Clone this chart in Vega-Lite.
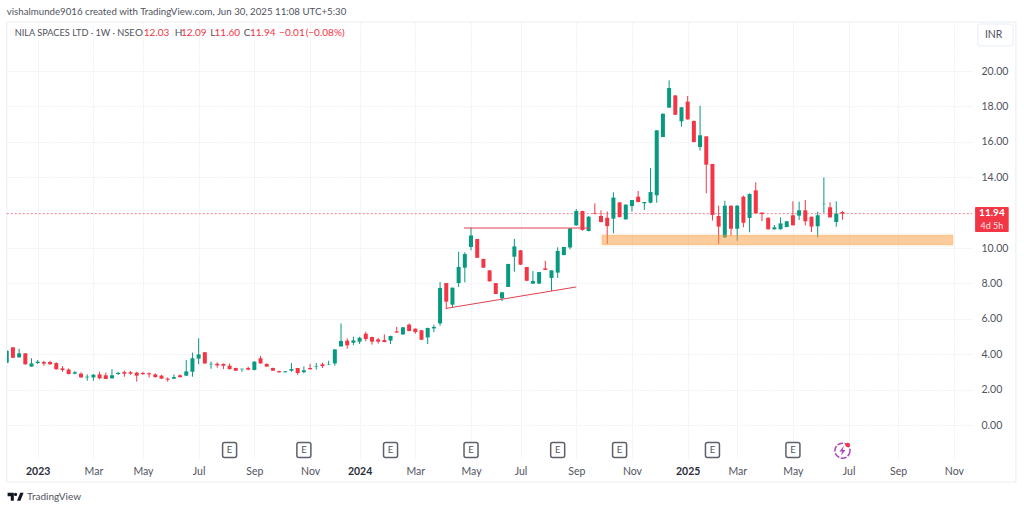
{
  "$schema": "https://vega.github.io/schema/vega-lite/v6.json",
  "autosize": "none",
  "padding": {"left": 7, "top": 22, "right": 52, "bottom": 51},
  "width": 965,
  "height": 438,
  "background": "white",
  "config": {"view": {"stroke": null}, "text": {"font": "Lato"}, "axis": {"labelFont": "Lato"}},
  "datasets": {
    "candles": [
      {"date":"2022-11-28","open":3.52,"high":4.24,"low":3.48,"close":4.2},
      {"date":"2022-12-05","open":4.39,"high":4.39,"low":3.78,"close":3.8},
      {"date":"2022-12-12","open":3.82,"high":4.31,"low":3.82,"close":4.05},
      {"date":"2022-12-19","open":4.05,"high":4.07,"low":3.41,"close":3.43},
      {"date":"2022-12-26","open":3.3,"high":3.77,"low":3.29,"close":3.48},
      {"date":"2023-01-02","open":3.5,"high":3.67,"low":3.45,"close":3.58},
      {"date":"2023-01-09","open":3.56,"high":3.63,"low":3.35,"close":3.47},
      {"date":"2023-01-16","open":3.56,"high":3.63,"low":3.41,"close":3.43},
      {"date":"2023-01-23","open":3.5,"high":3.54,"low":3.13,"close":3.15},
      {"date":"2023-01-30","open":3.2,"high":3.33,"low":3.01,"close":3.11},
      {"date":"2023-02-06","open":3.13,"high":3.2,"low":2.86,"close":2.88},
      {"date":"2023-02-13","open":2.9,"high":3.05,"low":2.86,"close":2.98},
      {"date":"2023-02-20","open":2.9,"high":2.98,"low":2.67,"close":2.69},
      {"date":"2023-02-27","open":2.69,"high":2.86,"low":2.5,"close":2.73},
      {"date":"2023-03-06","open":2.69,"high":2.88,"low":2.5,"close":2.84},
      {"date":"2023-03-13","open":2.86,"high":3.01,"low":2.58,"close":2.64},
      {"date":"2023-03-20","open":2.81,"high":2.96,"low":2.6,"close":2.6},
      {"date":"2023-03-27","open":2.64,"high":3.15,"low":2.62,"close":2.81},
      {"date":"2023-04-03","open":2.88,"high":3.01,"low":2.83,"close":2.94},
      {"date":"2023-04-10","open":2.99,"high":3.07,"low":2.73,"close":2.9},
      {"date":"2023-04-17","open":2.98,"high":3.05,"low":2.84,"close":2.9},
      {"date":"2023-04-24","open":2.96,"high":3.01,"low":2.45,"close":2.79},
      {"date":"2023-05-01","open":2.94,"high":3.01,"low":2.83,"close":2.88},
      {"date":"2023-05-08","open":2.92,"high":2.98,"low":2.69,"close":2.86},
      {"date":"2023-05-15","open":2.86,"high":2.92,"low":2.67,"close":2.71},
      {"date":"2023-05-22","open":2.79,"high":2.83,"low":2.6,"close":2.62},
      {"date":"2023-05-29","open":2.62,"high":2.69,"low":2.45,"close":2.56},
      {"date":"2023-06-05","open":2.62,"high":2.86,"low":2.6,"close":2.71},
      {"date":"2023-06-12","open":2.81,"high":2.86,"low":2.67,"close":2.71},
      {"date":"2023-06-19","open":2.79,"high":3.67,"low":2.77,"close":3.03},
      {"date":"2023-06-26","open":3.01,"high":4.09,"low":2.73,"close":3.77},
      {"date":"2023-07-03","open":3.75,"high":4.9,"low":3.43,"close":3.99},
      {"date":"2023-07-10","open":4.11,"high":4.13,"low":3.46,"close":3.48},
      {"date":"2023-07-17","open":3.43,"high":3.58,"low":3.18,"close":3.46},
      {"date":"2023-07-24","open":3.46,"high":3.54,"low":3.24,"close":3.37},
      {"date":"2023-07-31","open":3.45,"high":3.48,"low":3.16,"close":3.35},
      {"date":"2023-08-07","open":3.35,"high":3.48,"low":3.13,"close":3.16},
      {"date":"2023-08-14","open":3.22,"high":3.24,"low":3.05,"close":3.07},
      {"date":"2023-08-21","open":3.15,"high":3.18,"low":3.01,"close":3.18},
      {"date":"2023-08-28","open":3.22,"high":3.3,"low":3.09,"close":3.13},
      {"date":"2023-09-04","open":3.11,"high":3.6,"low":3.09,"close":3.58},
      {"date":"2023-09-11","open":3.77,"high":3.9,"low":3.46,"close":3.48},
      {"date":"2023-09-18","open":3.45,"high":3.48,"low":3.28,"close":3.3},
      {"date":"2023-09-25","open":3.22,"high":3.24,"low":3.05,"close":3.07},
      {"date":"2023-10-02","open":3.05,"high":3.07,"low":2.96,"close":2.98},
      {"date":"2023-10-09","open":2.98,"high":3.05,"low":2.96,"close":3.03},
      {"date":"2023-10-16","open":3.07,"high":3.5,"low":3.01,"close":3.16},
      {"date":"2023-10-23","open":3.22,"high":3.22,"low":2.84,"close":2.94},
      {"date":"2023-10-30","open":2.99,"high":3.31,"low":2.92,"close":3.09},
      {"date":"2023-11-06","open":3.22,"high":3.45,"low":3.13,"close":3.15},
      {"date":"2023-11-13","open":3.3,"high":3.5,"low":3.13,"close":3.33},
      {"date":"2023-11-20","open":3.43,"high":3.52,"low":3.22,"close":3.33},
      {"date":"2023-11-27","open":3.43,"high":3.63,"low":3.39,"close":3.45},
      {"date":"2023-12-04","open":3.48,"high":4.29,"low":3.35,"close":4.27},
      {"date":"2023-12-11","open":4.44,"high":5.74,"low":4.44,"close":4.75},
      {"date":"2023-12-18","open":4.77,"high":4.9,"low":4.31,"close":4.5},
      {"date":"2023-12-25","open":4.65,"high":4.99,"low":4.52,"close":4.78},
      {"date":"2024-01-01","open":4.71,"high":4.99,"low":4.58,"close":4.93},
      {"date":"2024-01-08","open":5.16,"high":5.27,"low":4.73,"close":4.86},
      {"date":"2024-01-15","open":4.97,"high":4.99,"low":4.54,"close":4.71},
      {"date":"2024-01-22","open":4.84,"high":4.92,"low":4.6,"close":4.71},
      {"date":"2024-01-29","open":4.8,"high":5.12,"low":4.67,"close":4.69},
      {"date":"2024-02-05","open":4.77,"high":5.05,"low":4.58,"close":5.03},
      {"date":"2024-02-12","open":5.29,"high":5.54,"low":5.22,"close":5.22},
      {"date":"2024-02-19","open":5.12,"high":5.54,"low":5.1,"close":5.52},
      {"date":"2024-02-26","open":5.67,"high":5.74,"low":5.29,"close":5.31},
      {"date":"2024-03-04","open":5.44,"high":5.46,"low":5.16,"close":5.25},
      {"date":"2024-03-11","open":5.35,"high":5.37,"low":4.8,"close":4.82},
      {"date":"2024-03-18","open":4.95,"high":5.5,"low":4.58,"close":5.48},
      {"date":"2024-03-25","open":5.46,"high":5.67,"low":5.25,"close":5.54},
      {"date":"2024-04-01","open":5.74,"high":8.08,"low":5.61,"close":7.74},
      {"date":"2024-04-08","open":8.02,"high":8.02,"low":6.55,"close":6.97},
      {"date":"2024-04-15","open":6.8,"high":7.76,"low":6.65,"close":7.76},
      {"date":"2024-04-22","open":8.02,"high":9.79,"low":7.8,"close":8.93},
      {"date":"2024-04-29","open":8.89,"high":9.76,"low":8.06,"close":9.66},
      {"date":"2024-05-06","open":10.06,"high":11.15,"low":9.87,"close":10.71},
      {"date":"2024-05-13","open":10.51,"high":10.51,"low":9.43,"close":9.45},
      {"date":"2024-05-20","open":9.38,"high":9.4,"low":8.87,"close":8.89},
      {"date":"2024-05-27","open":8.74,"high":8.74,"low":8.1,"close":8.12},
      {"date":"2024-06-03","open":8.02,"high":8.02,"low":7.4,"close":7.4},
      {"date":"2024-06-10","open":7.16,"high":7.5,"low":7.0,"close":7.5},
      {"date":"2024-06-17","open":7.8,"high":9.1,"low":7.8,"close":9.1},
      {"date":"2024-06-24","open":9.51,"high":10.51,"low":8.66,"close":10.09},
      {"date":"2024-07-01","open":9.87,"high":9.89,"low":9.04,"close":9.06},
      {"date":"2024-07-08","open":8.93,"high":8.93,"low":8.13,"close":8.15},
      {"date":"2024-07-15","open":7.99,"high":8.7,"low":7.97,"close":8.14},
      {"date":"2024-07-22","open":7.99,"high":8.64,"low":7.97,"close":8.64},
      {"date":"2024-07-29","open":8.85,"high":9.28,"low":8.76,"close":8.76},
      {"date":"2024-08-05","open":8.31,"high":8.74,"low":7.57,"close":8.74},
      {"date":"2024-08-12","open":8.61,"high":10.04,"low":8.31,"close":9.83},
      {"date":"2024-08-19","open":9.6,"high":10.06,"low":9.6,"close":10.06},
      {"date":"2024-08-26","open":10.03,"high":11.11,"low":9.93,"close":11.11},
      {"date":"2024-09-02","open":11.28,"high":12.2,"low":11.26,"close":12.09},
      {"date":"2024-09-09","open":12.09,"high":12.1,"low":10.98,"close":11.02},
      {"date":"2024-09-16","open":10.96,"high":11.8,"low":10.94,"close":11.77},
      {"date":"2024-09-23","open":11.96,"high":12.52,"low":11.92,"close":11.92},
      {"date":"2024-09-30","open":11.81,"high":12.13,"low":11.45,"close":11.47},
      {"date":"2024-10-07","open":11.71,"high":12.06,"low":10.23,"close":11.24},
      {"date":"2024-10-14","open":11.66,"high":13.15,"low":10.83,"close":12.85},
      {"date":"2024-10-21","open":12.58,"high":12.58,"low":11.73,"close":11.75},
      {"date":"2024-10-28","open":11.62,"high":12.47,"low":11.6,"close":12.45},
      {"date":"2024-11-04","open":12.37,"high":12.71,"low":12.05,"close":12.71},
      {"date":"2024-11-11","open":12.9,"high":13.22,"low":12.58,"close":12.6},
      {"date":"2024-11-18","open":12.53,"high":12.6,"low":12.15,"close":12.6},
      {"date":"2024-11-25","open":12.56,"high":14.52,"low":12.52,"close":13.16},
      {"date":"2024-12-02","open":12.98,"high":16.65,"low":12.56,"close":16.65},
      {"date":"2024-12-09","open":16.27,"high":17.59,"low":16.27,"close":17.59},
      {"date":"2024-12-16","open":17.93,"high":19.47,"low":17.93,"close":19.04},
      {"date":"2024-12-23","open":18.62,"high":18.64,"low":17.51,"close":17.53},
      {"date":"2024-12-30","open":17.16,"high":17.97,"low":16.86,"close":17.95},
      {"date":"2025-01-06","open":18.27,"high":18.59,"low":17.25,"close":17.27},
      {"date":"2025-01-13","open":17.18,"high":17.2,"low":15.97,"close":15.99},
      {"date":"2025-01-20","open":15.71,"high":18.04,"low":15.5,"close":16.37},
      {"date":"2025-01-27","open":16.31,"high":16.31,"low":13.09,"close":14.71},
      {"date":"2025-02-03","open":14.75,"high":14.75,"low":11.55,"close":11.87},
      {"date":"2025-02-10","open":11.81,"high":12.39,"low":10.23,"close":11.21},
      {"date":"2025-02-17","open":10.6,"high":12.67,"low":10.57,"close":12.39},
      {"date":"2025-02-24","open":12.39,"high":12.39,"low":10.7,"close":11.09},
      {"date":"2025-03-03","open":11.09,"high":12.43,"low":10.41,"close":12.39},
      {"date":"2025-03-10","open":12.9,"high":12.96,"low":11.17,"close":11.43},
      {"date":"2025-03-17","open":11.7,"high":13.09,"low":10.89,"close":13.05},
      {"date":"2025-03-24","open":13.26,"high":13.71,"low":11.96,"close":11.96},
      {"date":"2025-03-31","open":12.0,"high":12.0,"low":11.51,"close":11.92},
      {"date":"2025-04-07","open":11.71,"high":11.73,"low":11.04,"close":11.06},
      {"date":"2025-04-14","open":11.06,"high":11.3,"low":11.04,"close":11.17},
      {"date":"2025-04-21","open":11.06,"high":11.73,"low":11.04,"close":11.39},
      {"date":"2025-04-28","open":11.19,"high":11.53,"low":11.17,"close":11.51},
      {"date":"2025-05-05","open":11.85,"high":12.64,"low":11.28,"close":11.28},
      {"date":"2025-05-12","open":11.83,"high":12.62,"low":11.58,"close":12.13},
      {"date":"2025-05-19","open":12.13,"high":12.71,"low":11.28,"close":11.51},
      {"date":"2025-05-26","open":11.77,"high":11.77,"low":10.9,"close":11.21},
      {"date":"2025-06-02","open":11.23,"high":12.05,"low":10.6,"close":11.85},
      {"date":"2025-06-09","open":12.48,"high":13.99,"low":11.99,"close":12.5},
      {"date":"2025-06-16","open":12.3,"high":12.58,"low":11.73,"close":11.73},
      {"date":"2025-06-23","open":11.47,"high":12.64,"low":11.2,"close":11.94},
      {"date":"2025-06-30","open":12.03,"high":12.09,"low":11.6,"close":11.94}
    ],
    "trendlines": [
      {"line":"resistance","date":"2024-04-28","price":11.13},
      {"line":"resistance","date":"2024-09-17","price":11.13},
      {"line":"support","date":"2024-04-08","price":6.59},
      {"line":"support","date":"2024-09-02","price":7.8}
    ],
    "zone": [{"date":"2024-10-01","end":"2025-11-02","top":10.73,"bottom":10.17}],
    "last": [{"date":"2022-11-28","end":"2025-11-23T12:00:00Z","price":11.94}],
    "frame": [{"date":"2022-11-28","end":"2026-01-12","top":22.77,"bottom":-3.22}],
    "tag": [{"date":"2025-11-27","end":"2026-01-04","top":12.32,"bottom":10.9}],
    "currency": [{"date":"2025-11-30","end":"2026-01-09","top":22.66,"bottom":21.41}],
    "earnings": [
      {"date":"2023-08-07","price":-1.41,"label":"E"},
      {"date":"2023-10-30","price":-1.41,"label":"E"},
      {"date":"2024-02-05","price":-1.41,"label":"E"},
      {"date":"2024-05-06","price":-1.41,"label":"E"},
      {"date":"2024-08-12","price":-1.41,"label":"E"},
      {"date":"2024-10-21","price":-1.41,"label":"E"},
      {"date":"2025-02-03","price":-1.41,"label":"E"},
      {"date":"2025-05-05","price":-1.41,"label":"E"}
    ],
    "event": [{"date":"2025-06-30","price":-1.45}],
    "eventdot": [{"date":"2025-07-06","price":-1.13}],
    "logo": [{"date":"2022-12-08","price":-4.05}],
    "credit": [
      {"date":"2022-11-28","price":23.33,"text":"vishalmunde9016 created with TradingView.com, Jun 30, 2025 11:08 UTC+5:30"}
    ],
    "symbol": [
      {"date":"2022-12-07","price":22.15,"text":"NILA SPACES LTD · 1W · NSE"}
    ],
    "notes": [
      {"date":"2023-04-22","price":22.15,"text":"O","tone":"plain"},
      {"date":"2023-05-02","price":22.15,"text":"12.03","tone":"down"},
      {"date":"2023-06-06","price":22.15,"text":"H","tone":"plain"},
      {"date":"2023-06-13","price":22.15,"text":"12.09","tone":"down"},
      {"date":"2023-07-16","price":22.15,"text":"L","tone":"plain"},
      {"date":"2023-07-21","price":22.15,"text":"11.60","tone":"down"},
      {"date":"2023-08-23","price":22.15,"text":"C","tone":"plain"},
      {"date":"2023-08-30","price":22.15,"text":"11.94","tone":"down"},
      {"date":"2023-10-02","price":22.15,"text":"−0.01","tone":"down"},
      {"date":"2023-11-01","price":22.15,"text":"(−0.08%)","tone":"down"},
      {"date":"2022-12-21","price":-4.07,"text":"TradingView","tone":"plain"}
    ]
  },
  "encoding": {
    "x": {
      "field": "date",
      "type": "temporal",
      "title": null,
      "scale": {
        "type": "utc",
        "nice": false,
        "domain": [{"year":2022,"month":11,"date":28,"hours":7,"utc":true}, {"year":2025,"month":11,"date":23,"hours":12,"utc":true}]
      },
      "axis": {
        "values": [
          {"year":2023,"month":1,"date":2,"utc":true},{"year":2023,"month":3,"date":6,"utc":true},{"year":2023,"month":5,"date":1,"utc":true},
          {"year":2023,"month":7,"date":3,"utc":true},{"year":2023,"month":9,"date":4,"utc":true},{"year":2023,"month":11,"date":6,"utc":true},
          {"year":2024,"month":1,"date":1,"utc":true},{"year":2024,"month":3,"date":4,"utc":true},{"year":2024,"month":5,"date":6,"utc":true},
          {"year":2024,"month":7,"date":1,"utc":true},{"year":2024,"month":9,"date":2,"utc":true},{"year":2024,"month":11,"date":4,"utc":true},
          {"year":2025,"month":1,"date":6,"utc":true},{"year":2025,"month":3,"date":3,"utc":true},{"year":2025,"month":5,"date":5,"utc":true},
          {"year":2025,"month":7,"date":7,"utc":true},{"year":2025,"month":9,"date":1,"utc":true},{"year":2025,"month":11,"date":3,"utc":true}
        ],
        "labelExpr": "utcmonth(datum.value) == 0 ? utcFormat(datum.value, '%Y') : utcFormat(datum.value, '%b')",
        "labelFontWeight": {"condition": {"test": "utcmonth(datum.value) == 0", "value": 700}, "value": 400},
        "labelColor": {"condition": {"test": "utcmonth(datum.value) == 0", "value": "#2a2e39"}, "value": "#50535e"},
        "labelFontSize": 10.5,
        "labelPadding": 6,
        "labelOverlap": false,
        "labelFlush": false,
        "domain": false,
        "ticks": false,
        "grid": true,
        "gridColor": "#eff1f4",
        "gridDash": [2, 1]
      }
    }
  },
  "layer": [
    {
      "data": {"name": "frame"},
      "mark": {"type": "rect", "fillOpacity": 0, "stroke": "#f2f3f6", "strokeWidth": 1.5},
      "encoding": {
        "x2": {"field": "end"},
        "y": {"field": "top", "type": "quantitative", "scale": {"domain": [-1.977, 22.77], "nice": false, "zero": false},
          "title": null,
          "axis": {"orient": "right", "values": [0,2,4,6,8,10,12,14,16,18,20], "labelExpr": "datum.value == 12 ? '' : format(datum.value, '.2f')", "labelColor": "#50535e", "labelFontSize": 10.5, "labelPadding": 9, "domain": false, "ticks": false, "grid": true, "gridColor": "#eff1f4", "gridDash": [2, 1]}},
        "y2": {"field": "bottom"}
      }
    },
    {
      "data": {"name": "last"},
      "mark": {"type": "rule", "color": "#f23645", "strokeWidth": 1, "strokeDash": [2, 2], "opacity": 0.6},
      "encoding": {
        "x2": {"field": "end"},
        "y": {"field": "price", "type": "quantitative", "title": null}
      }
    },
    {
      "data": {"name": "candles"},
      "mark": {"type": "rule", "strokeWidth": 1, "clip": true},
      "encoding": {
        "y": {"field": "low", "type": "quantitative", "title": null},
        "y2": {"field": "high"},
        "color": {"condition": {"test": "datum.close < datum.open", "value": "#f23645"}, "value": "#089981"}
      }
    },
    {
      "data": {"name": "candles"},
      "mark": {"type": "rule", "strokeWidth": 4, "clip": true},
      "encoding": {
        "y": {"field": "open", "type": "quantitative", "title": null},
        "y2": {"field": "close"},
        "color": {"condition": {"test": "datum.close < datum.open", "value": "#f23645"}, "value": "#089981"}
      }
    },
    {
      "data": {"name": "trendlines"},
      "mark": {"type": "line", "color": "#e0414f", "strokeWidth": 1},
      "encoding": {
        "y": {"field": "price", "type": "quantitative", "title": null},
        "detail": {"field": "line"}
      }
    },
    {
      "data": {"name": "zone"},
      "mark": {"type": "rect", "fill": "#fa9a3c", "fillOpacity": 0.5, "stroke": "#fa9a3c", "strokeOpacity": 0.12, "strokeWidth": 3},
      "encoding": {
        "x2": {"field": "end"},
        "y": {"field": "top", "type": "quantitative", "title": null},
        "y2": {"field": "bottom"}
      }
    },
    {
      "data": {"name": "earnings"},
      "mark": {"type": "rect", "width": 14, "height": 15, "fill": "white", "stroke": "#5d606b", "strokeWidth": 1.5, "cornerRadius": 2},
      "encoding": {
        "y": {"field": "price", "type": "quantitative", "title": null}
      }
    },
    {
      "data": {"name": "earnings"},
      "mark": {"type": "text", "fontSize": 9.5, "color": "#50535e", "baseline": "middle", "align": "center"},
      "encoding": {
        "y": {"field": "price", "type": "quantitative", "title": null},
        "text": {"field": "label"}
      }
    },
    {
      "data": {"name": "event"},
      "mark": {"type": "point", "shape": "circle", "size": 227, "filled": false, "color": "#ab47bc", "strokeWidth": 1.5, "strokeDash": [6, 1.5], "opacity": 1},
      "encoding": {
        "y": {"field": "price", "type": "quantitative", "title": null}
      }
    },
    {
      "data": {"name": "event"},
      "mark": {"type": "point", "shape": "M.3,-1L-.6,.15H-.05L-.3,1L.6,-.15H.05Z", "size": 100, "filled": true, "color": "#ab47bc", "opacity": 1},
      "encoding": {
        "y": {"field": "price", "type": "quantitative", "title": null}
      }
    },
    {
      "data": {"name": "eventdot"},
      "mark": {"type": "circle", "size": 22, "color": "#f23645", "opacity": 1},
      "encoding": {
        "y": {"field": "price", "type": "quantitative", "title": null}
      }
    },
    {
      "data": {"name": "tag"},
      "mark": {"type": "rect", "fill": "#f23645", "cornerRadius": 1},
      "encoding": {
        "x2": {"field": "end"},
        "y": {"field": "top", "type": "quantitative", "title": null},
        "y2": {"field": "bottom"}
      }
    },
    {
      "data": {"values": [{"date": "2025-12-16", "price": 12.0, "text": "11.94"}]},
      "mark": {"type": "text", "fontSize": 10, "fontWeight": 700, "color": "white", "baseline": "middle", "align": "center"},
      "encoding": {
        "y": {"field": "price", "type": "quantitative", "title": null},
        "text": {"field": "text"}
      }
    },
    {
      "data": {"values": [{"date": "2025-12-16", "price": 11.25, "text": "4d 5h"}]},
      "mark": {"type": "text", "fontSize": 9, "color": "#fde3e5", "baseline": "middle", "align": "center"},
      "encoding": {
        "y": {"field": "price", "type": "quantitative", "title": null},
        "text": {"field": "text"}
      }
    },
    {
      "data": {"name": "currency"},
      "mark": {"type": "rect", "fill": "white", "stroke": "#f0f3fa", "strokeWidth": 1.5, "cornerRadius": 3},
      "encoding": {
        "x2": {"field": "end"},
        "y": {"field": "top", "type": "quantitative", "title": null},
        "y2": {"field": "bottom"}
      }
    },
    {
      "data": {"values": [{"date": "2025-12-18", "price": 22.04, "text": "INR"}]},
      "mark": {"type": "text", "fontSize": 10.5, "color": "#50535e", "baseline": "middle", "align": "center"},
      "encoding": {
        "y": {"field": "price", "type": "quantitative", "title": null},
        "text": {"field": "text"}
      }
    },
    {
      "data": {"name": "logo"},
      "mark": {"type": "point", "shape": "M-1,-.5H-.22V.5H-.6V-.04H-1ZM1,-.5H.58L.18,.5H.6ZM.2,-.28A.2,.2 0 1 1 -.2,-.28A.2,.2 0 1 1 .2,-.28Z", "size": 256, "filled": true, "color": "#131722", "opacity": 1},
      "encoding": {
        "y": {"field": "price", "type": "quantitative", "title": null}
      }
    },
    {
      "data": {"name": "credit"},
      "mark": {"type": "text", "fontSize": 9.7, "align": "left", "baseline": "middle", "color": "#50535e"},
      "encoding": {
        "y": {"field": "price", "type": "quantitative", "title": null},
        "text": {"field": "text"}
      }
    },
    {
      "data": {"name": "symbol"},
      "mark": {"type": "text", "fontSize": 9.2, "align": "left", "baseline": "middle", "color": "#50535e"},
      "encoding": {
        "y": {"field": "price", "type": "quantitative", "title": null},
        "text": {"field": "text"}
      }
    },
    {
      "data": {"name": "notes"},
      "mark": {"type": "text", "fontSize": 10, "align": "left", "baseline": "middle"},
      "encoding": {
        "y": {"field": "price", "type": "quantitative", "title": null},
        "text": {"field": "text"},
        "color": {"condition": {"test": "datum.tone === 'down'", "value": "#f23645"}, "value": "#50535e"}
      }
    }
  ]
}
